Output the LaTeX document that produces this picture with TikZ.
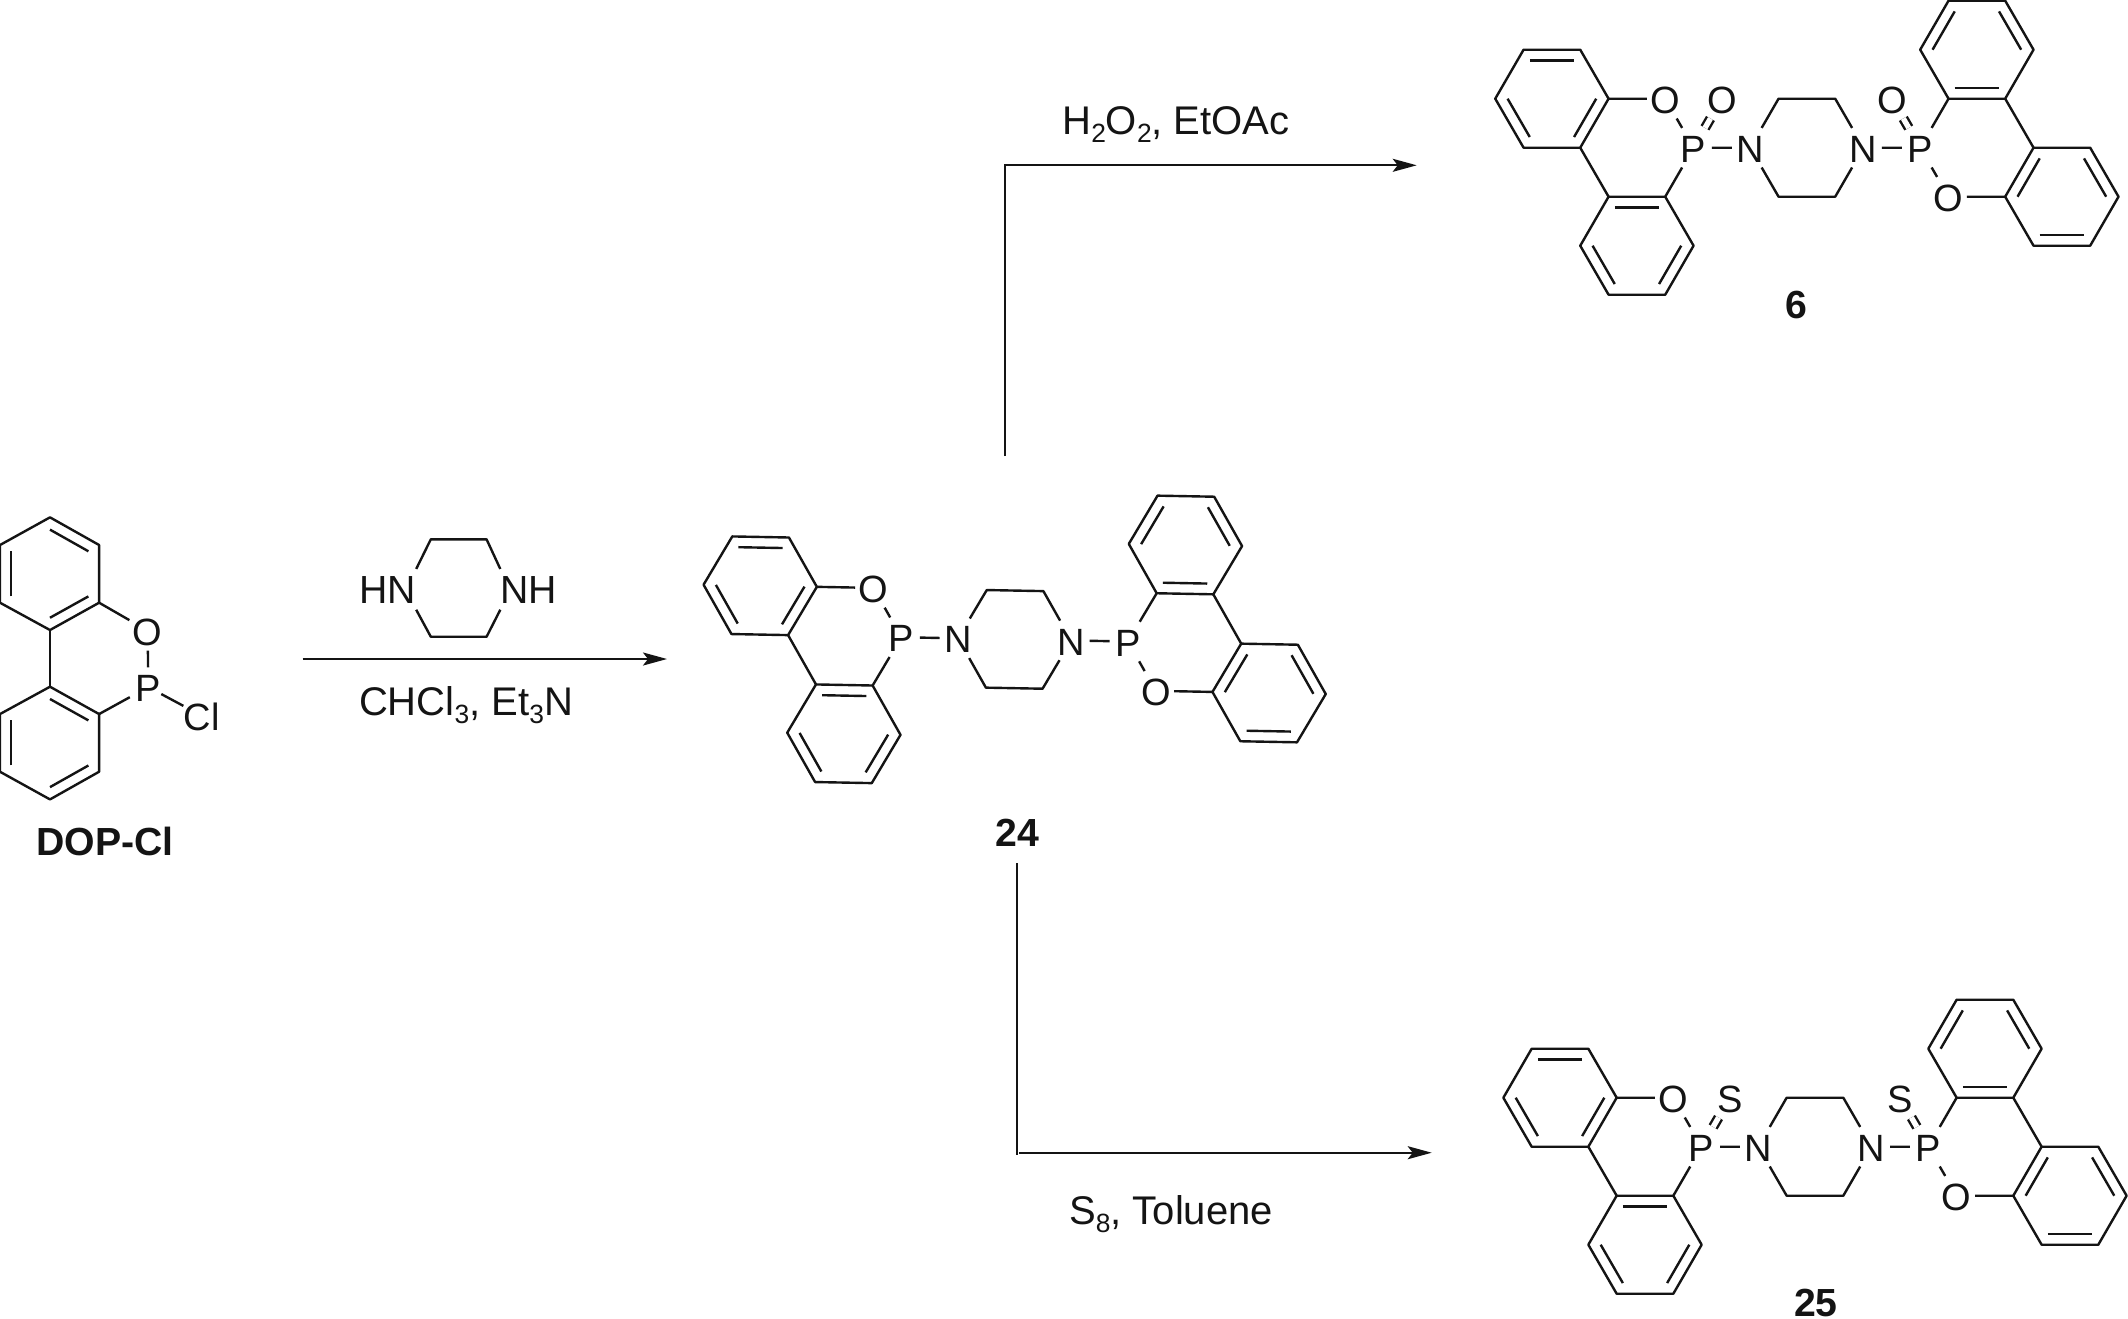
\documentclass[tikz,border=0pt]{standalone}
\usepackage{fontspec}
\setmainfont{Liberation Sans}
\usetikzlibrary{calc,arrows.meta}
\definecolor{ink}{gray}{0.08}
\tikzset{
  bond/.style={line width=1.2pt,line join=round,ink},
  dbl/.style={bond,double=white,double distance=2.7pt},
  atom/.style={rectangle,inner sep=0pt,minimum width=18pt,minimum height=19.4pt,text height=14.6pt,text depth=0pt,font=\fontsize{19}{19}\selectfont,text=ink},
  reag/.style={inner sep=0pt,font=\fontsize{20}{20}\selectfont,text=ink},
  hn/.style={inner sep=0pt,font=\fontsize{19.6}{20}\selectfont,text=ink,minimum height=20pt,text height=14pt,text depth=0pt},
  cpd/.style={inner sep=0pt,anchor=base,font=\bfseries\fontsize{19.6}{20}\selectfont,text=ink},
  rxnline/.style={line width=1.05pt,ink},
  rxn/.style={rxnline,-{Stealth[length=12pt,width=6.5pt,inset=2.5pt]}}
}
\newcommand{\chemsub}[1]{\raisebox{-4.3pt}{\fontsize{13.2}{13}\selectfont #1}}
% inner line of an aromatic double bond
\newcommand{\arobond}[3]{\draw[bond] ($(#1)!.218!(#3)$) -- ($(#2)!.218!(#3)$);}
% #1 prefix, #2 origin, #3 x vector, #4 y vector, #5 exocyclic atom (empty: none)
\newcommand{\dopmol}[5]{%
\begin{scope}[shift={#2},x={#3},y={#4},name prefix=#1-]
  \foreach \n/\i/\j in {a1/-8/-2,a2/-6/-2,a3/-5/-1,a4/-6/0,a5/-8/0,a6/-9/-1,ac/-7/-1,
    b1/-5/1,b2/-3/1,b3/-2/2,b4/-3/3,b5/-5/3,b6/-6/2,bc/-4/2,
    c1/7/-1,c2/9/-1,c3/10/-2,c4/9/-3,c5/7/-3,c6/6/-2,cc/8/-2,
    d1/10/0,d2/12/0,d3/13/1,d4/12/2,d5/10/2,d6/9/1,dc/11/1,
    p1/1/-1,p2/3/-1,p3/3/1,p4/1/1}{\coordinate (\n) at (\i,\j);}
  \node[atom] (N1) at (0,0) {N};
  \node[atom] (N2) at (4,0) {N};
  \node[atom] (P1) at (-2,0) {P};
  \node[atom] (P2) at (6,0) {P};
  \node[atom] (O1) at (-3,-1) {O};
  \node[atom] (O2) at (7,1) {O};
  \draw[bond] (a1)--(a2)--(a3)--(a4)--(a5)--(a6)--cycle;
  \draw[bond] (b1)--(b2)--(b3)--(b4)--(b5)--(b6)--cycle;
  \draw[bond] (c1)--(c2)--(c3)--(c4)--(c5)--(c6)--cycle;
  \draw[bond] (d1)--(d2)--(d3)--(d4)--(d5)--(d6)--cycle;
  \draw[bond] (a4)--(b1) (c2)--(d1);
  \arobond{a1}{a2}{ac}\arobond{a6}{a5}{ac}\arobond{a4}{a3}{ac}
  \arobond{b1}{b2}{bc}\arobond{b6}{b5}{bc}\arobond{b4}{b3}{bc}
  \arobond{c1}{c2}{cc}\arobond{c6}{c5}{cc}\arobond{c4}{c3}{cc}
  \arobond{d6}{d1}{dc}\arobond{d2}{d3}{dc}\arobond{d5}{d4}{dc}
  \draw[bond] (a3)--(O1) (O1)--(P1) (P1)--(b2) (P1)--(N1);
  \draw[bond] (N1)--(p1)--(p2)--(N2) (N1)--(p4)--(p3)--(N2);
  \draw[bond] (N2)--(P2) (P2)--(c1) (P2)--(O2) (O2)--(d6);
  \ifx\relax#5\relax\else
    \node[atom] (X1) at (-1,-1) {#5};
    \node[atom] (X2) at (5,-1) {#5};
    \draw[dbl] (P1)--(X1);
    \draw[dbl] (P2)--(X2);
  \fi
\end{scope}}
\begin{document}
\begin{tikzpicture}[x=0.5pt,y=-0.5pt]
\useasboundingbox[fill=white] (0,0) rectangle (2128,1318);

% DOP-Cl and piperazine
\begin{scope}[shift={(0,490)},x=0.2232pt,y=-0.1667pt,name prefix=dop-]
  \foreach \n/\i/\j in {t1/112/82,t2/222/165,t3/222/338,t4/112/420,t5/0/338,t6/0/165,tc/112/251,
    u1/112/590,u2/222/672,u3/222/845,u4/112/928,u5/0/845,u6/0/672,uc/112/759}{\coordinate (\n) at (\i,\j);}
  \node[atom] (O) at (331,422) {O};
  \node[atom] (P) at (332,591) {P};
  \node[atom] (Cl) at (452,677) {Cl};
  \draw[bond] (t1)--(t2)--(t3)--(t4)--(t5)--(t6)--cycle;
  \draw[bond] (u1)--(u2)--(u3)--(u4)--(u5)--(u6)--cycle;
  \draw[bond] (t4)--(u1);
  \arobond{t1}{t2}{tc}\arobond{t3}{t4}{tc}\arobond{t5}{t6}{tc}
  \arobond{u1}{u2}{uc}\arobond{u3}{u4}{uc}\arobond{u5}{u6}{uc}
  \draw[bond] (t3)--(O) (O)--(P) (P)--(u2);
  \draw[bond,shorten <=-3pt] (P)--(Cl);
  \node[hn] (HN) at (868,298) {HN};
  \node[hn] (NH) at (1185,298) {NH};
  \coordinate (r1) at (965,148);
  \coordinate (r2) at (1090,148);
  \coordinate (r3) at (1090,440);
  \coordinate (r4) at (965,440);
  \draw[bond] (HN.north east)--(r1)--(r2)--(NH.north west);
  \draw[bond] (HN.south east)--(r4)--(r3)--(NH.south west);
\end{scope}
\node[cpd] (lblDOP) at (105,855) {DOP-Cl};

\coordinate (a0) at (302.7,659);
\coordinate (a1) at (667,659);
\draw[rxn] (a0) -- (a1);
\node[reag,anchor=base] (cond1) at (466,715) {CHCl\chemsub{3}, Et\chemsub{3}N};

% compound 24
\dopmol{m24}{(958,638.3)}{(14.16pt,-0.267pt)}{(-0.215pt,-24.4pt)}{}
\node[cpd] (lbl24) at (1017.4,846) {24};

% compound 6
\dopmol{m6}{(1750.2,147.7)}{(14.165pt,0pt)}{(0pt,-24.5pt)}{O}
\node[cpd] (lbl6) at (1796,318) {6};

% compound 25
\dopmol{m25}{(1758.3,1146.7)}{(14.165pt,0pt)}{(0pt,-24.5pt)}{S}
\node[cpd] (lbl25) at (1815.8,1316) {25};

% branch arrows
\coordinate (up0) at (1004.7,456);
\coordinate (up1) at (1004.7,165.3);
\coordinate (up2) at (1416.7,165.3);
\draw[rxn] (up0) -- (up1) -- (up2);
\node[reag,anchor=base] (condup) at (1176,134) {H\chemsub{2}O\chemsub{2}, EtOAc};

\coordinate (dn0) at (1016.7,863);
\coordinate (dn1) at (1016.7,1155);
\coordinate (dn2) at (1019.3,1152.7);
\coordinate (dn3) at (1431.7,1152.7);
\draw[rxnline] (dn0) -- (dn1);
\draw[rxn] (dn2) -- (dn3);
\node[reag,anchor=base] (conddn) at (1171,1224) {S\chemsub{8}, Toluene};
\end{tikzpicture}
\end{document}
